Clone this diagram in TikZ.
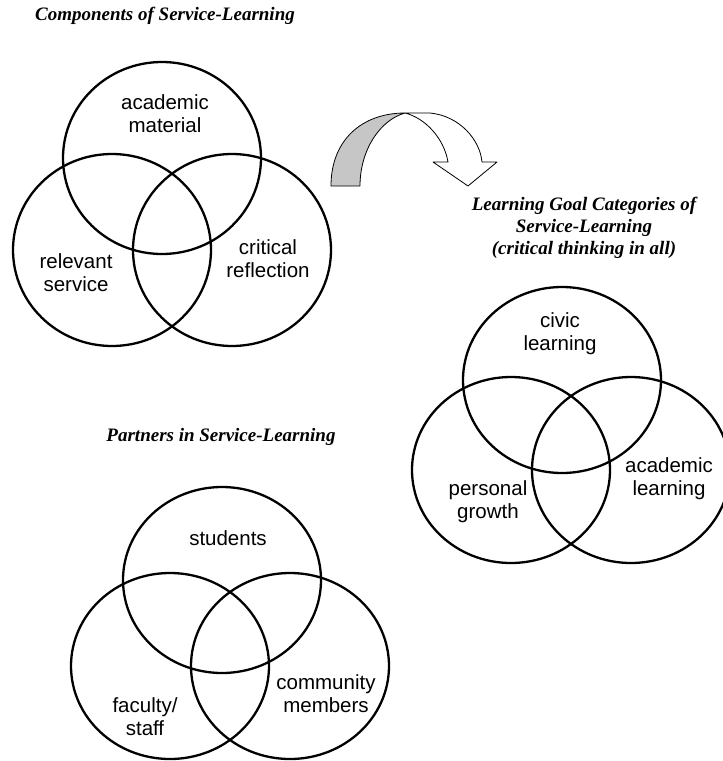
\documentclass[tikz,border=0pt]{standalone}
\usepackage{fontspec}
\setmainfont{Liberation Serif}
\setsansfont{Liberation Sans}
\usetikzlibrary{shapes.geometric}

\begin{document}
\begin{tikzpicture}
[
x=1pt, y=-1pt,
venn/.style={ellipse, draw=black, line width=2.3pt, minimum width=198pt, minimum height=188pt, inner sep=0},
vtext/.style={font=\sffamily\fontsize{20.5}{23}\selectfont, align=center, inner sep=0},
headline/.style={font=\bfseries\itshape\fontsize{19}{22}\selectfont, align=center, inner sep=0},
band/.style={draw=black, line width=0.8pt, line join=round}
]
\useasboundingbox (0,0) rectangle (723,761);

%Titles
\node[headline] (comptitle)  at (165,16)  {Components of Service-Learning};
\node[headline] (goaltitle)  at (584,228) {Learning Goal Categories of\\Service-Learning\\(critical thinking in all)};
\node[headline] (parttitle)  at (221,437) {Partners in Service-Learning};

%Components
\node[venn, minimum height=192pt] (acad)  at (162,158) {};
\node[venn, minimum height=192pt] (serv)  at (112,250) {};
\node[venn, minimum height=192pt] (refl)  at (232,250) {};
\node[vtext] (acadtxt) at (165,114) {academic\\material};
\node[vtext] (servtxt) at (76,273)  {relevant\\service};
\node[vtext] (refltxt) at (268,259) {critical\\reflection};

%Goals
\node[venn, minimum height=186pt] (civic)  at (562,380) {};
\node[venn, minimum height=186pt] (pers)   at (511,470) {};
\node[venn, minimum height=186pt] (alearn) at (631,470) {};
\node[vtext] (civictxt)  at (560,334) {civic\\learning};
\node[vtext] (perstxt)   at (488,502) {personal\\growth};
\node[vtext] (alearntxt) at (669,479) {academic\\learning};

%Partners
\node[venn, minimum height=186pt] (stud) at (222,580) {};
\node[venn, minimum height=186pt] (fac)  at (170,666) {};
\node[venn, minimum height=186pt] (comm) at (290,666) {};
\node[vtext] (studtxt) at (228,538) {students};
\node[vtext] (factxt)  at (145,717) {faculty/\\staff};
\node[vtext] (commtxt) at (326,694) {community\\members};

%Arrow
\coordinate (arrtop) at (405,113);
\filldraw[band, fill=gray!45] (331,186) .. controls (331,140) and (362,113) .. (arrtop)
  .. controls (380,120) and (360,150) .. (360,186) -- cycle;
\filldraw[band, fill=white] (arrtop) -- (430,113) .. controls (460,116) and (480,140) .. (482,162)
  -- (497,162) -- (468,186) -- (433,162) -- (448,162)
  .. controls (444,138) and (425,118) .. (arrtop) -- cycle;

\end{tikzpicture}
\end{document}
